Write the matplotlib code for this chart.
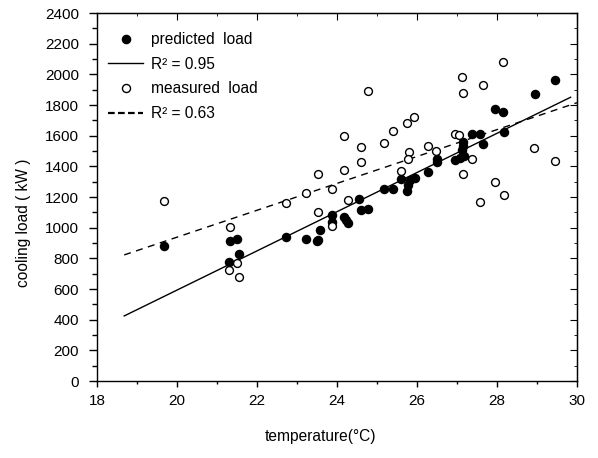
import numpy as np
import matplotlib
matplotlib.use("Agg")
import matplotlib.pyplot as plt
from matplotlib.lines import Line2D

plt.rcParams['font.family'] = ['Liberation Sans', 'DejaVu Sans']

# predicted load (filled)
pred_t = [19.68, 21.33, 21.50, 21.55, 21.30, 22.72, 23.23, 23.49, 23.53, 23.57,
          23.87, 23.88, 24.18, 24.22, 24.28, 24.56, 24.60, 24.77, 25.18, 25.39,
          25.60, 25.76, 25.78, 25.83, 25.95, 26.28, 26.49, 26.51, 26.95, 27.08,
          27.18, 27.12, 27.14, 27.14, 27.37, 27.58, 27.66, 27.95, 28.14, 28.17,
          28.94, 29.46]
pred_load = [880, 915, 926, 828, 776, 941, 926, 915, 920, 985,
             1083, 1039, 1067, 1050, 1028, 1185, 1115, 1120, 1250, 1254,
             1315, 1241, 1278, 1311, 1322, 1365, 1430, 1446, 1441, 1452,
             1467, 1507, 1533, 1561, 1611, 1609, 1546, 1772, 1754, 1624,
             1874, 1965]

# measured load (open)
meas_t = [19.68, 21.33, 21.50, 21.31, 21.55, 22.72, 23.53, 23.22, 23.52, 23.88,
          23.87, 24.18, 24.18, 24.28, 24.60, 24.59, 25.18, 25.39, 25.76, 25.60,
          25.80, 25.78, 26.28, 26.48, 24.77, 25.93, 26.95, 27.06, 27.13, 27.15,
          27.66, 28.14, 27.37, 27.16, 27.95, 28.17, 27.58, 28.93, 29.46]
meas_load = [1176, 1006, 767, 724, 680, 1163, 1100, 1228, 1350, 1250,
             1011, 1598, 1376, 1180, 1524, 1426, 1550, 1630, 1680, 1370,
             1491, 1448, 1535, 1500, 1893, 1724, 1609, 1604, 1985, 1876,
             1930, 2078, 1448, 1348, 1298, 1213, 1170, 1517, 1435]

# regression lines (intercept, slope) and x range
fit_pred = (-1963.0, 127.8)
fit_pred_x = [18.68, 29.84]
fit_meas = (-816.0, 87.7)
fit_meas_x = [18.68, 30.0]

fig = plt.figure(figsize=(5.98, 4.58), dpi=100)
ax = fig.add_axes([0.1622, 0.1681, 0.8027, 0.8035])

ax.scatter(pred_t, pred_load, s=34, c='black', zorder=3)
ax.scatter(meas_t, meas_load, s=32, facecolors='white', edgecolors='black',
           linewidths=1.0, zorder=3)

xp = np.array(fit_pred_x)
ax.plot(xp, fit_pred[0] + fit_pred[1] * xp, color='black', lw=1.0)
xm = np.array(fit_meas_x)
ax.plot(xm, fit_meas[0] + fit_meas[1] * xm, color='black', lw=1.0,
        dashes=(5, 4))

ax.set_xlim(18, 30)
ax.set_ylim(0, 2400)
xmaj = np.arange(18, 31, 2)
xmin = np.arange(18, 31, 1)
ymaj = np.arange(0, 2401, 200)
ymin = np.arange(0, 2401, 100)
ax.set_xticks(xmaj)
ax.set_xticks(xmin, minor=True)
ax.set_yticks(ymaj)
ax.set_yticks(ymin, minor=True)

ax.tick_params(which='both', direction='out', labelsize=11, width=1.0,
               top=False, right=False)
ax.tick_params(axis='y', which='major', length=6, pad=7)
ax.tick_params(axis='y', which='minor', length=3.5)
ax.tick_params(axis='x', which='major', length=4, pad=5)
ax.tick_params(axis='x', which='minor', length=2.5)
for s in ax.spines.values():
    s.set_linewidth(1.0)

# inward ticks on top and right
ax2 = ax.secondary_xaxis('top')
ax2.set_xticks(xmaj)
ax2.set_xticks(xmin, minor=True)
ax2.tick_params(which='both', direction='in', labeltop=False)
ax2.tick_params(which='major', length=5)
ax2.tick_params(which='minor', length=2.5)
ay2 = ax.secondary_yaxis('right')
ay2.set_yticks(ymaj)
ay2.set_yticks(ymin, minor=True)
ay2.tick_params(which='both', direction='in', labelright=False)
ay2.tick_params(which='major', length=5)
ay2.tick_params(which='minor', length=2.5)

ax.set_xlabel('temperature(\u00b0C)', fontsize=11.2)
ax.set_ylabel('cooling load ( kW )', fontsize=11.2)
ax.xaxis.set_label_coords(0.465, -0.152)
ax.yaxis.set_label_coords(-0.154, 0.43)
ax.xaxis.label.set_va('center')
ax.yaxis.label.set_va('center')

handles = [
    Line2D([], [], ls='none', marker='o', ms=5.9, color='black'),
    Line2D([], [], color='black', lw=1.0),
    Line2D([], [], ls='none', marker='o', ms=5.8, mfc='white', mec='black'),
    Line2D([], [], color='black', lw=1.6, dashes=(3, 1.5)),
]
labels = ['predicted  load', 'R\u00b2 = 0.95', 'measured  load', 'R\u00b2 = 0.63']
ax.legend(handles, labels, loc='upper left', bbox_to_anchor=(0.023, 0.948),
          frameon=False, fontsize=11.2, handlelength=2.25, handletextpad=0.5,
          labelspacing=0.62, borderaxespad=0, borderpad=0, numpoints=1)

fig.savefig('out.png', dpi=100)
